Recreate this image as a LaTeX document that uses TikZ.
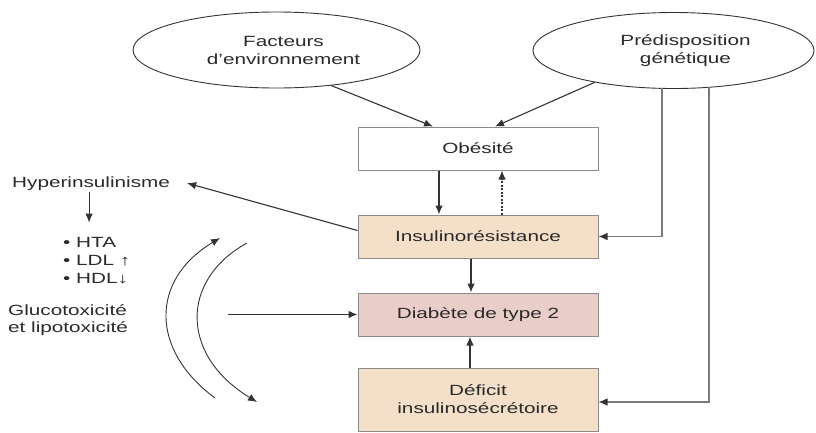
\documentclass[tikz,border=0pt]{standalone}
\usepackage{fontspec}
\setmainfont[FakeStretch=1.4]{Liberation Sans}
\usetikzlibrary{shapes.geometric,arrows.meta}
\definecolor{txtc}{HTML}{2A2A2A}
\definecolor{linec}{HTML}{333333}
\definecolor{greyline}{HTML}{7A7A7A}
\definecolor{boxc}{HTML}{8A8A8A}
\definecolor{beige}{HTML}{F4DFC9}
\definecolor{rose}{HTML}{E9CDC8}
\tikzset{
  ell/.style={ellipse, draw=linec, line width=0.9pt, fill=white, inner sep=0pt, minimum width=287pt, minimum height=76pt},
  lbl/.style={align=center, text=txtc, inner sep=2pt},
  stepbox/.style={draw=boxc, line width=1pt, minimum width=240pt, minimum height=43pt, inner sep=0pt, text=txtc, align=center},
  arr/.style={draw=linec, line width=1.1pt, -{Latex[length=9pt,width=7.5pt]}},
  garr/.style={draw=greyline, line width=1.1pt, -{Latex[length=9pt,width=7.5pt,fill=linec,color=linec]}},
  freetxt/.style={anchor=base west, align=left, text=txtc, inner sep=2pt}
}
\begin{document}
\begin{tikzpicture}[x=1pt,y=-1pt,font=\fontsize{14.8}{18}\selectfont]
\useasboundingbox (0,0) rectangle (816,432);
% ellipses
\node[ell] (fact) at (276.5,50) {};
\node[lbl] (factt) at ([xshift=7pt]fact.center) {Facteurs\\d’environnement};
\node[ell, minimum width=281pt] (pred) at (673.5,50.5) {};
\node[lbl] (predt) at ([xshift=12pt]pred.center) {Prédisposition\\génétique};
% boxes
\node[stepbox, fill=white] (obes) at (478,148.5) {Obésité};
\node[stepbox, fill=beige] (ins) at (478,236.5) {Insulinorésistance};
\node[stepbox, fill=rose] (diab) at (478,314.5) {Diabète de type 2};
\node[stepbox, fill=beige, minimum height=63pt] (def) at (478,399.5) {Déficit\\insulinosécrétoire};
% left texts
\node[freetxt] (hyper) at (10,187) {Hyperinsulinisme};
\node[freetxt] (bul) at (61,283) {• HTA\\• LDL ↑\\• HDL↓};
\node[freetxt, font=\fontsize{14.8}{16.5}\selectfont] (gluco) at (6,332) {Glucotoxicité\\et lipotoxicité};
\coordinate (glin) at (228,314.5);
% connectors
\draw[arr] (fact.-33) -- ([xshift=-45pt]obes.north);
\draw[arr] (pred.202) -- ([xshift=17pt]obes.north);
\draw[arr] ([xshift=-39pt]obes.south) -- ([xshift=-39pt]ins.north);
\draw[arr, dash pattern=on 2pt off 1.5pt] ([xshift=24pt]ins.north) -- ([xshift=24pt]obes.south);
\draw[arr] ([xshift=-7pt]ins.south) -- ([xshift=-7pt]diab.north);
\draw[arr] ([xshift=-8pt]def.north) -- ([xshift=-8pt]diab.south);
\draw[garr] ([xshift=-11.5pt,yshift=1pt]pred.south) |- (ins.east);
\draw[garr] ([xshift=35.5pt,yshift=2pt]pred.south) |- ([yshift=-2.5pt]def.east);
\draw[arr] ([yshift=6pt]ins.west) -- ([xshift=15pt]hyper.east);
\draw[arr, shorten >=12pt] ([xshift=-2pt]hyper.south) -- ([xshift=-2pt]hyper.south |- bul.north);
\draw[arr] (glin) -- (diab.west);
% curved arrows
\draw[arr, line width=0.9pt] (215,398) .. controls (150,350) and (150,280) .. (220,238);
\draw[arr, line width=0.9pt] (247,243) .. controls (180,280) and (180,355) .. (257,402);
\end{tikzpicture}
\end{document}
